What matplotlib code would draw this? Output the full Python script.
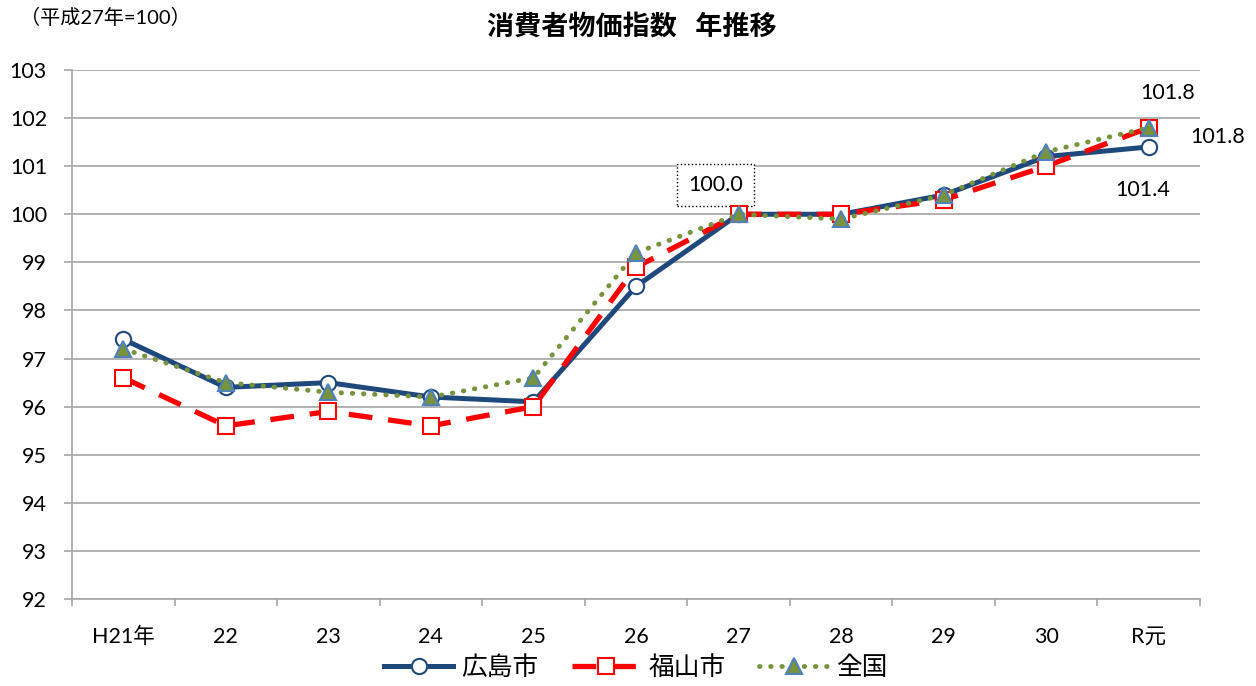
import matplotlib
matplotlib.use("Agg")
import matplotlib.pyplot as plt
from matplotlib.ticker import MultipleLocator

plt.rcParams["font.family"] = ["Lato", "Noto Sans CJK JP", "DejaVu Sans"]
CJK = ["Noto Sans CJK JP", "DejaVu Sans"]

years = ["H21年", "22", "23", "24", "25", "26", "27", "28", "29", "30", "R元"]
hiroshima = [97.4, 96.4, 96.5, 96.2, 96.1, 98.5, 100.0, 100.0, 100.4, 101.2, 101.4]
fukuyama = [96.6, 95.6, 95.9, 95.6, 96.0, 98.9, 100.0, 100.0, 100.3, 101.0, 101.8]
zenkoku = [97.2, 96.5, 96.3, 96.2, 96.6, 99.2, 100.0, 99.9, 100.4, 101.3, 101.8]

NAVY = "#1F497D"
RED = "#FF0000"
OLIVE = "#77933C"
GRID = "#A6A6A6"

fig = plt.figure(figsize=(12.56, 6.86), dpi=100)
ax = fig.add_axes([72 / 1256, 1 - 599 / 686, 1128 / 1256, 529 / 686])

x = range(len(years))
ax.plot(x, hiroshima, color=NAVY, lw=3.6, marker="o", ms=11,
        mfc="white", mec=NAVY, mew=1.5, label="広島市", zorder=3)
ax.plot(x, fukuyama, color=RED, lw=3.8, ls=(0, (4.5, 3)), marker="s", ms=11,
        mfc="white", mec=RED, mew=1.5, label="福山市", zorder=4)
ax.plot(x, zenkoku, color=OLIVE, lw=3.5, ls=(0, (0.1, 2.2)),
        dash_capstyle="round", marker="^", ms=12,
        mfc=OLIVE, mec="#4F81BD", mew=1.5, label="全国", zorder=5)

ax.set_xlim(-0.5, len(years) - 0.5)
ax.set_ylim(92, 103)
ax.yaxis.set_major_locator(MultipleLocator(1))
ax.set_xticks(list(x))
ax.set_xticklabels(years)
ax.set_xticks([i - 0.5 for i in range(len(years) + 1)], minor=True)
ax.tick_params(axis="x", which="major", length=0, pad=20, labelsize=15.5)
ax.tick_params(axis="x", which="minor", length=5, width=1.2, color=GRID)
ax.tick_params(axis="y", length=6, width=1.2, color=GRID, labelsize=15.5, pad=12)

ax.grid(axis="y", color=GRID, lw=1.2)
ax.set_axisbelow(True)
for side in ("top", "right"):
    ax.spines[side].set_visible(False)
for side in ("left", "bottom"):
    ax.spines[side].set_color(GRID)
    ax.spines[side].set_linewidth(1.2)

# value labels
last = len(years) - 1
label_kw = dict(textcoords="offset points", ha="center", va="center", fontsize=15.5)
ax.annotate(f"{fukuyama[last]:.1f}", (last, fukuyama[last]), xytext=(14, 25), **label_kw)
ax.annotate(f"{zenkoku[last]:.1f}", (last, zenkoku[last]), xytext=(50, -7), **label_kw)
ax.annotate(f"{hiroshima[last]:.1f}", (last, hiroshima[last]), xytext=(-4, -31), **label_kw)
ax.annotate(f"{hiroshima[6]:.1f}", (6, hiroshima[6]), xytext=(-16.5, 21), **label_kw,
            bbox=dict(boxstyle="square,pad=0.5", fc="white", ec="black",
                      ls=":", lw=1))

fig.text(0.503, 1 - 27 / 686, "消費者物価指数   年推移", ha="center", va="center",
         fontsize=19.5, fontweight="bold", family=CJK)
fig.text(20 / 1256, 1 - 17 / 686, "（平成27年=100）", ha="left", va="center",
         fontsize=14.5)

fig.legend(loc="center", bbox_to_anchor=(636 / 1256, 1 - 668 / 686), ncol=3,
           frameon=False, prop=dict(family=CJK, size=18.5), handlelength=2.7,
           columnspacing=1.3, handletextpad=0.3)

fig.savefig("out.png", dpi=100)
